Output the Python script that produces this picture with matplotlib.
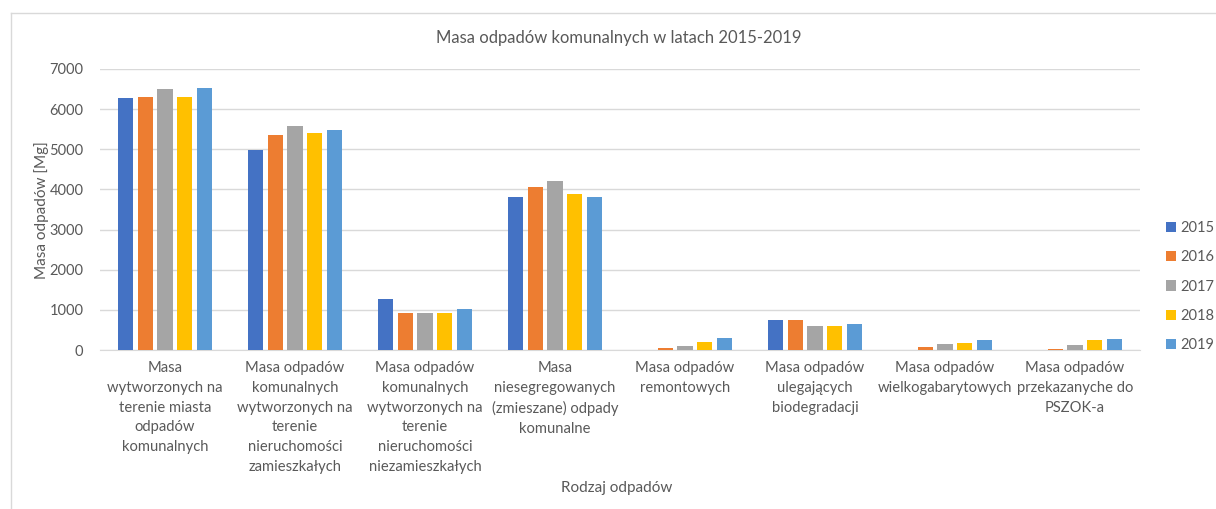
import matplotlib
matplotlib.use("Agg")
import matplotlib.pyplot as plt
from matplotlib.lines import Line2D
import numpy as np

plt.rcParams['font.family'] = ['Lato', 'DejaVu Sans']

categories = [
    "Masa\nwytworzonych na\nterenie miasta\nodpadów\nkomunalnych",
    "Masa odpadów\nkomunalnych\nwytworzonych na\nterenie\nnieruchomości\nzamieszkałych",
    "Masa odpadów\nkomunalnych\nwytworzonych na\nterenie\nnieruchomości\nniezamieszkałych",
    "Masa\nniesegregowanych\n(zmieszane) odpady\nkomunalne",
    "Masa odpadów\nremontowych",
    "Masa odpadów\nulegających\nbiodegradacji",
    "Masa odpadów\nwielkogabarytowych",
    "Masa odpadów\nprzekazanyche do\nPSZOK-a",
]
years = ["2015", "2016", "2017", "2018", "2019"]
v2015 = [6280, 4980, 1270, 3800, 10, 750, 10, 0]
v2016 = [6300, 5350, 930, 4050, 50, 750, 80, 30]
v2017 = [6500, 5590, 910, 4220, 110, 600, 150, 120]
v2018 = [6310, 5400, 910, 3890, 190, 590, 180, 250]
v2019 = [6530, 5480, 1030, 3800, 290, 660, 240, 270]
series = [v2015, v2016, v2017, v2018, v2019]
colors = ["#4472C4", "#ED7D31", "#A5A5A5", "#FFC000", "#5B9BD5"]

txt = "#595959"
fig = plt.figure(figsize=(12.16, 5.09), dpi=100)
ax = fig.add_axes([100/1216, 1-350/509, 1040/1216, 281/509])

x = np.arange(len(categories))
step = 0.152
bw = 0.118
for i, (vals, c, y) in enumerate(zip(series, colors, years)):
    ax.bar(x + (i-2)*step, vals, width=bw, color=c, label=y, zorder=3)

ax.set_xlim(-0.5, len(categories)-0.5)
ax.set_ylim(0, 7000)
ax.set_yticks(range(0, 7001, 1000))
ax.yaxis.grid(True, color="#D9D9D9", linewidth=1, zorder=0)
for s in ["top", "right", "left"]:
    ax.spines[s].set_visible(False)
ax.spines["bottom"].set_color("#D9D9D9")
ax.tick_params(axis='both', length=0, colors=txt, labelsize=10.5)
ax.tick_params(axis='y', pad=12)
ax.tick_params(axis='x', pad=8)
ax.set_xticks(x)
ax.set_xticklabels(categories, fontsize=10.6, color=txt, linespacing=1.52)

fig.text(42/1216, 1-210/509, "Masa odpadów [Mg]", rotation=90, ha="center", va="center", fontsize=11, color=txt)
fig.text(617/1216, 1-488/509, "Rodzaj odpadów", ha="center", va="center", fontsize=11, color=txt)
fig.text(619/1216, 1-38/509, "Masa odpadów komunalnych w latach 2015-2019", ha="center", va="center", fontsize=12, color=txt)

leg = ax.legend(loc="upper left", bbox_to_anchor=(1166/1216, 1-221/509), bbox_transform=fig.transFigure,
                frameon=False, fontsize=10.5, handlelength=0.7, handleheight=0.7, handletextpad=0.3,
                labelspacing=1.05, borderaxespad=0, borderpad=0)
for t in leg.get_texts():
    t.set_color(txt)

fig.add_artist(Line2D([11/1216, 1], [1-13/509, 1-13/509], transform=fig.transFigure, color="#D9D9D9", lw=1))
fig.add_artist(Line2D([11/1216, 11/1216], [0, 1-13/509], transform=fig.transFigure, color="#D9D9D9", lw=1))

fig.savefig("out.png", dpi=100)
